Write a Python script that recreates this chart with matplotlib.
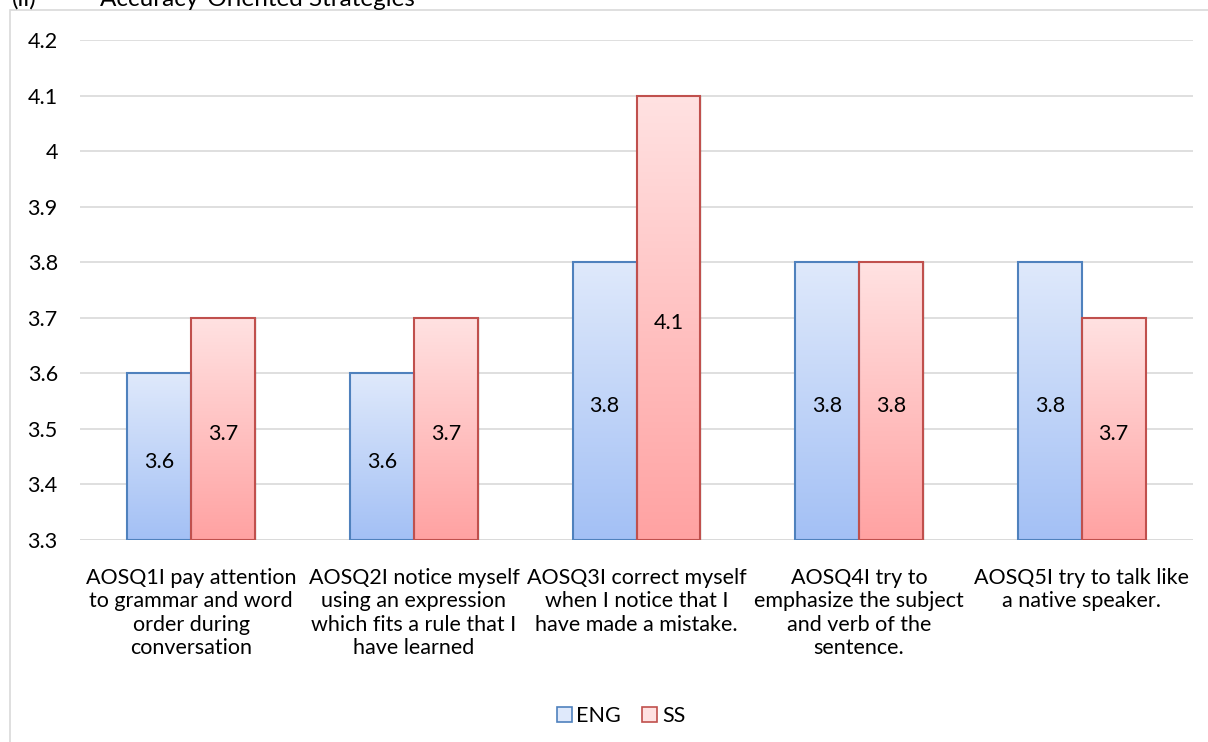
import numpy as np
import matplotlib
matplotlib.use("Agg")
import matplotlib.pyplot as plt
from matplotlib.colors import LinearSegmentedColormap
from matplotlib.patches import Rectangle

plt.rcParams['font.family'] = ['Lato', 'DejaVu Sans']

categories = [
    "AOSQ1I pay attention\nto grammar and word\norder during\nconversation",
    "AOSQ2I notice myself\nusing an expression\nwhich fits a rule that I\nhave learned",
    "AOSQ3I correct myself\nwhen I notice that I\nhave made a mistake.",
    "AOSQ4I try to\nemphasize the subject\nand verb of the\nsentence.",
    "AOSQ5I try to talk like\na native speaker.",
]
eng = [3.6, 3.6, 3.8, 3.8, 3.8]
ss = [3.7, 3.7, 4.1, 3.8, 3.7]
series_names = ["ENG", "SS"]
y_ticks = [3.3, 3.4, 3.5, 3.6, 3.7, 3.8, 3.9, 4.0, 4.1, 4.2]
y_tick_labels = ["3.3", "3.4", "3.5", "3.6", "3.7", "3.8", "3.9", "4", "4.1", "4.2"]

base = 3.3
width = 0.2875
fs = 15.5
styles = [
    ("#4f81bd", "#dfe9fb", "#a3c0f5"),
    ("#c0504d", "#ffe2e2", "#ffa2a2"),
]

fig = plt.figure(figsize=(12.08, 7.42), dpi=100)
ax = fig.add_axes([80 / 1208, 1 - 540 / 742, 1113 / 1208, 500 / 742])

# outer chart frame and heading
fig.patches.append(Rectangle((10 / 1208, -0.05), 1.2, 1 - 10 / 742 + 0.05,
                             transform=fig.transFigure, fill=False,
                             edgecolor="#d9d9d9", linewidth=1.2))
fig.text(12 / 1208, 1 - 6 / 742, "(ii)", fontsize=17.5, va="baseline",
         ha="left")
fig.text(100 / 1208, 1 - 6 / 742, "Accuracy-Oriented Strategies",
         fontsize=17.5, va="baseline", ha="left")

x = np.arange(len(categories))
handles = []
for i, (vals, (edge, top, bottom)) in enumerate(zip([eng, ss], styles)):
    offs = (i - 0.5) * width
    bars = ax.bar(x + offs, np.array(vals) - base, width, bottom=base,
                  facecolor="none", edgecolor=edge, linewidth=1.5, zorder=3)
    cmap = LinearSegmentedColormap.from_list("g%d" % i, [bottom, top])
    grad = np.linspace(0, 1, 256).reshape(-1, 1)
    for b, v in zip(bars, vals):
        x0 = b.get_x()
        ax.imshow(grad, cmap=cmap, origin="lower", aspect="auto",
                  extent=[x0, x0 + width, base, v], zorder=2)
        # soft drop shadow
        ax.add_patch(Rectangle((x0 + 0.008, base), width, v - base,
                               facecolor="#000000", alpha=0.06,
                               edgecolor="none", zorder=1.5))
        ax.annotate(f"{v:g}", (x0 + width / 2, (base + v) / 2),
                    xytext=(0, -3.5), textcoords="offset points",
                    ha="center", va="center", fontsize=fs, zorder=4)
    handles.append(Rectangle((0, 0), 1, 1, facecolor=top, edgecolor=edge,
                             linewidth=1.2))

ax.set_xlim(-0.5, len(categories) - 0.5)
ax.set_ylim(3.3, 4.2)
ax.set_yticks(y_ticks)
ax.set_yticklabels(y_tick_labels, fontsize=fs)
ax.set_xticks(x)
ax.set_xticklabels(categories, fontsize=fs, linespacing=1.22)
ax.tick_params(axis="y", length=0, pad=16)
ax.tick_params(axis="x", length=0, pad=20)
ax.yaxis.grid(True, color="#d9d9d9", linewidth=1.2, zorder=0)
ax.set_axisbelow(True)
for s in ax.spines.values():
    s.set_visible(False)
ax.axhline(3.3, color="#d9d9d9", linewidth=1.2, zorder=1)

fig.legend(handles, series_names, loc="center",
           bbox_to_anchor=(0.514, 1 - 716 / 742), ncol=2, frameon=False,
           fontsize=fs, handlelength=0.7, handleheight=0.7,
           handletextpad=0.2, columnspacing=1.0)

fig.savefig("out.png", dpi=100)
